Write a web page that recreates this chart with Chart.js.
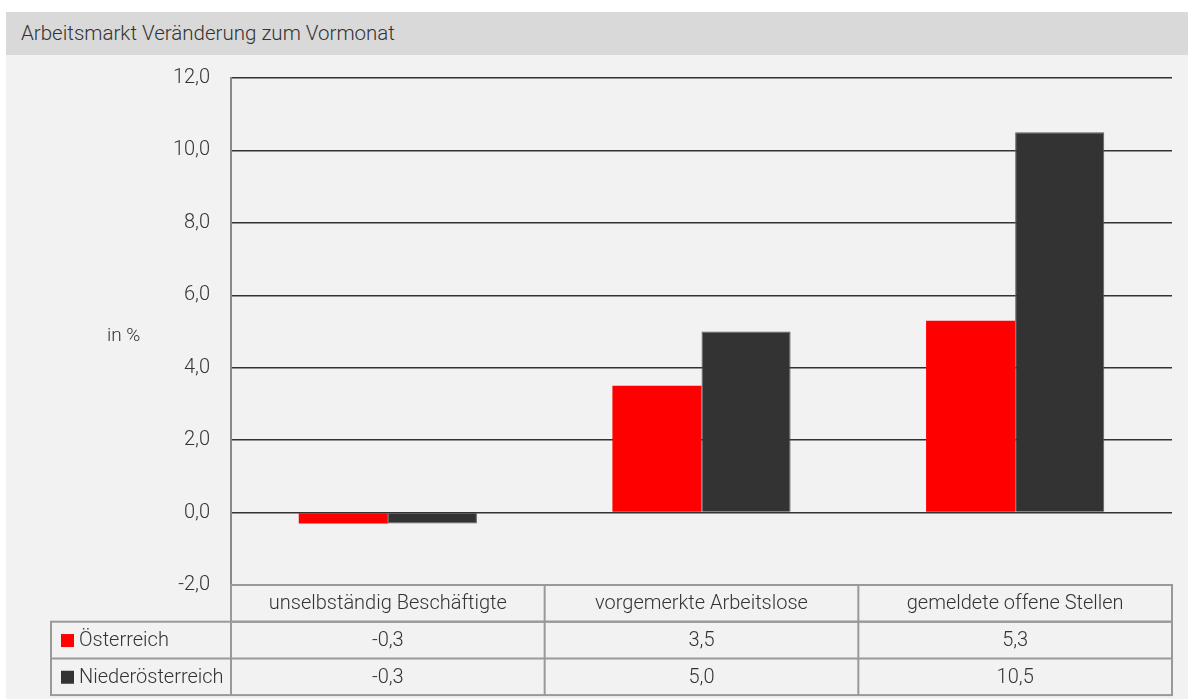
<!DOCTYPE html>
<html lang="de">
<head>
<meta charset="utf-8">
<script src="https://cdn.jsdelivr.net/npm/chart.js@4.4.1/dist/chart.umd.min.js"></script>
<style>
  html,body{margin:0;padding:0;background:#fff;}
  #wrap{position:absolute;left:6px;top:12px;width:1182px;height:687px;background:#f2f2f2;}
  #titel{height:43px;background:#d9d9d9;color:#333;font:300 20.5px Roboto,sans-serif;line-height:43px;padding-left:15px;}
  #box{position:relative;width:1182px;height:644px;}
</style>
</head>
<body>
<div id="wrap">
  <div id="titel">Arbeitsmarkt Veränderung zum Vormonat</div>
  <div id="box"><canvas id="c"></canvas></div>
</div>
<script>
// Daten
const kategorien = ['unselbständig Beschäftigte', 'vorgemerkte Arbeitslose', 'gemeldete offene Stellen'];
const oesterreich = [-0.3, 3.5, 5.3];
const niederoesterreich = [-0.3, 5.0, 10.5];
const serien = ['Österreich', 'Niederösterreich'];
const farben = ['#ff0000', '#333333'];
const achsenTitel = 'in %';

const FONT = 'Roboto, sans-serif';
const fmt = v => v.toFixed(1).replace('.', ',');

// Datentabelle unter dem Diagramm, an der x-Achse ausgerichtet
const tabellePlugin = {
  id: 'tabelle',
  afterDraw(chart){
    const ctx = chart.ctx;
    const ca = chart.chartArea;
    const n = kategorien.length;
    const w = (ca.right - ca.left) / n;
    const rowH = 36.7;
    const top = ca.bottom;
    const leftX = 45;
    const reihen = [oesterreich, niederoesterreich];
    ctx.save();
    ctx.strokeStyle = '#999';
    ctx.lineWidth = 2;
    // Kopfzeile
    ctx.strokeRect(ca.left, top, ca.right - ca.left, rowH);
    // Datenzeilen
    ctx.strokeRect(leftX, top + rowH, ca.right - leftX, rowH * 2);
    ctx.beginPath();
    ctx.moveTo(leftX, top + rowH * 2); ctx.lineTo(ca.right, top + rowH * 2);
    for(let i = 0; i <= n; i++){
      const x = ca.left + i * w;
      ctx.moveTo(x, top); ctx.lineTo(x, top + rowH * 3);
    }
    ctx.stroke();

    ctx.fillStyle = '#333';
    ctx.font = '300 20px ' + FONT;
    ctx.textAlign = 'center';
    ctx.textBaseline = 'middle';
    kategorien.forEach((k, i)=> ctx.fillText(k, ca.left + (i + 0.5) * w, top + rowH / 2 + 1));
    reihen.forEach((r, j)=>{
      const y = top + rowH * (j + 1.5) + 1;
      r.forEach((v, i)=> ctx.fillText(fmt(v), ca.left + (i + 0.5) * w, y));
      ctx.fillStyle = farben[j];
      ctx.fillRect(leftX + 10, y - 7, 13, 13);
      ctx.fillStyle = '#333';
      ctx.textAlign = 'left';
      ctx.fillText(serien[j], leftX + 28, y);
      ctx.textAlign = 'center';
    });

    // Achsentitel waagrecht
    ctx.textAlign = 'left';
    ctx.font = '300 19px ' + FONT;
    ctx.fillText(achsenTitel, 101, (ca.top + ca.bottom) / 2 + 5);
    ctx.restore();
  }
};

new Chart(document.getElementById('c'), {
  type: 'bar',
  data: {
    labels: kategorien,
    datasets: [
      { label: serien[0], data: oesterreich, backgroundColor: farben[0], borderWidth: 0 },
      { label: serien[1], data: niederoesterreich, backgroundColor: farben[1], borderColor: '#5c5c5c', borderWidth: 1 }
    ]
  },
  options: {
    responsive: true,
    maintainAspectRatio: false,
    animation: false,
    layout: { padding: { left: 0, right: 16, top: 23, bottom: 114 } },
    datasets: { bar: { barPercentage: 1, categoryPercentage: 0.568 } },
    plugins: { legend: { display: false }, tooltip: { enabled: false } },
    scales: {
      x: { display: false },
      y: {
        min: -2, max: 12,
        ticks: { stepSize: 2, padding: 21, color: '#333', font: { family: FONT, size: 20, weight: 300 }, callback: v => fmt(v) },
        grid: { drawTicks: false, lineWidth: 1.5, color: c => c.tick && c.tick.value === -2 ? '#999' : '#333' },
        border: { color: '#888', width: 2 },
        afterFit: s => { s.width = 225; s.paddingTop = 0; s.paddingBottom = 0; }
      }
    }
  },
  plugins: [tabellePlugin]
});
</script>
</body>
</html>
